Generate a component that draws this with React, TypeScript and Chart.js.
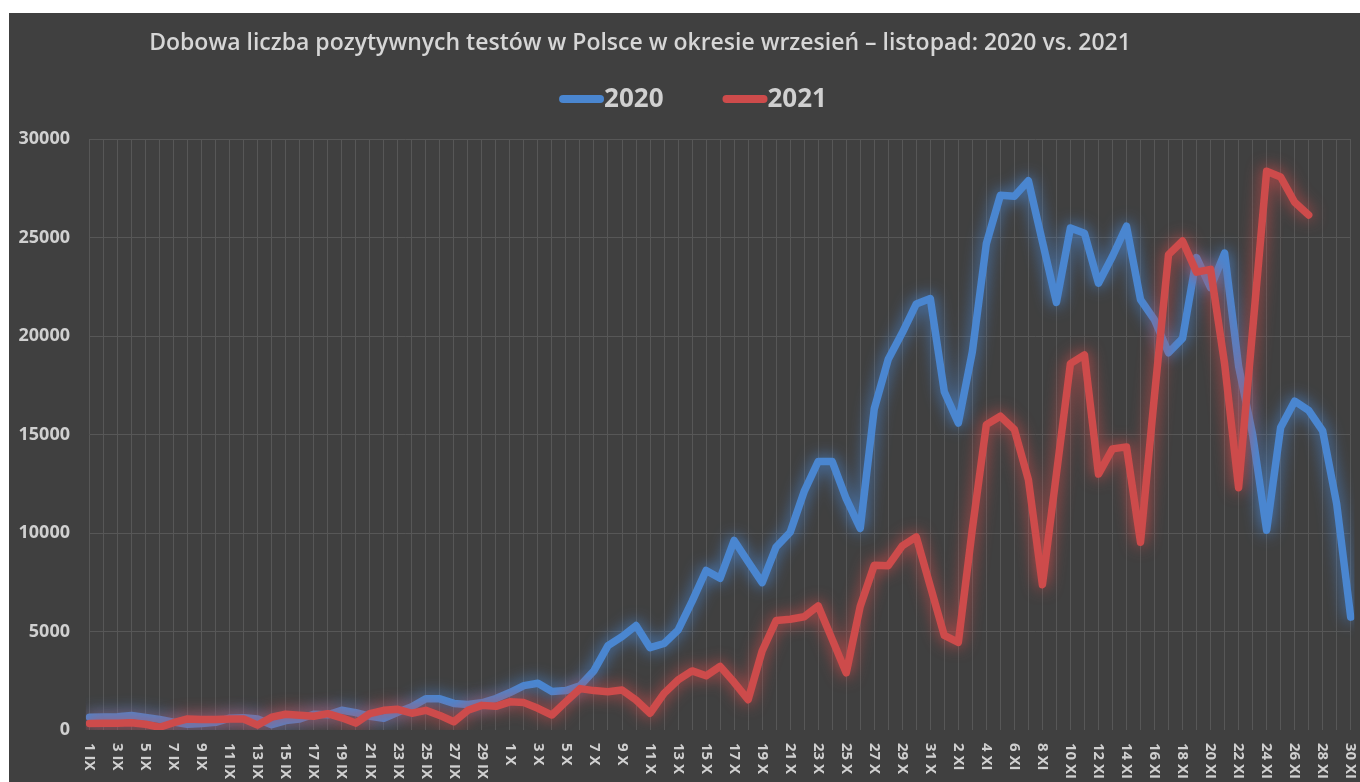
import React, { useEffect, useRef } from 'react';
import { Chart, registerables } from 'chart.js';

Chart.register(...registerables);

// ---------- data ----------
const TITLE = 'Dobowa liczba pozytywnych testów w Polsce w okresie wrzesień – listopad: 2020 vs. 2021';

const days = [
  '1 IX', '2 IX', '3 IX', '4 IX', '5 IX', '6 IX', '7 IX', '8 IX', '9 IX', '10 IX',
  '11 IX', '12 IX', '13 IX', '14 IX', '15 IX', '16 IX', '17 IX', '18 IX', '19 IX', '20 IX',
  '21 IX', '22 IX', '23 IX', '24 IX', '25 IX', '26 IX', '27 IX', '28 IX', '29 IX', '30 IX',
  '1 X', '2 X', '3 X', '4 X', '5 X', '6 X', '7 X', '8 X', '9 X', '10 X',
  '11 X', '12 X', '13 X', '14 X', '15 X', '16 X', '17 X', '18 X', '19 X', '20 X',
  '21 X', '22 X', '23 X', '24 X', '25 X', '26 X', '27 X', '28 X', '29 X', '30 X', '31 X',
  '1 XI', '2 XI', '3 XI', '4 XI', '5 XI', '6 XI', '7 XI', '8 XI', '9 XI', '10 XI',
  '11 XI', '12 XI', '13 XI', '14 XI', '15 XI', '16 XI', '17 XI', '18 XI', '19 XI', '20 XI',
  '21 XI', '22 XI', '23 XI', '24 XI', '25 XI', '26 XI', '27 XI', '28 XI', '29 XI', '30 XI',
];

const seriesNames = ['2020', '2021'];

const cases2020 = [
  650, 660, 670, 740, 640, 540, 400, 290, 330, 390,
  600, 620, 560, 270, 480, 560, 800, 770, 1000, 880,
  700, 600, 900, 1180, 1590, 1580, 1350, 1300, 1380, 1600,
  1900, 2250, 2370, 1950, 2000, 2240, 3010, 4280, 4740, 5300,
  4180, 4390, 5070, 6530, 8100, 7700, 9620, 8540, 7480, 9290,
  10040, 12110, 13630, 13630, 11740, 10240, 16300, 18820, 20160, 21630, 21900,
  17170, 15580, 19200, 24690, 27140, 27090, 27880, 24790, 21710, 25480,
  25220, 22680, 24050, 25570, 21850, 20820, 19150, 19880, 23980, 22460,
  24210, 18470, 15000, 10140, 15360, 16690, 16220, 15180, 11480, 5730,
];

const cases2021 = [
  330, 340, 340, 370, 290, 140, 370, 560, 530, 530,
  560, 560, 250, 650, 800, 750, 700, 830, 620, 350,
  830, 1000, 1050, 850, 1000, 740, 420, 1000, 1250, 1200,
  1430, 1390, 1100, 760, 1440, 2100, 2000, 1940, 2030, 1520,
  850, 1860, 2540, 3000, 2750, 3230, 2420, 1540, 4010, 5560,
  5620, 5750, 6300, 4600, 2900, 6280, 8360, 8340, 9350, 9800, 7300,
  4800, 4450, 10200, 15500, 15930, 15250, 12700, 7370, 13000, 18600,
  19040, 12990, 14270, 14370, 9530, 17000, 24130, 24820, 23240, 23380,
  18600, 12300, 20300, 28360, 28070, 26790, 26140,
];

const Y_MIN = 0;
const Y_MAX = 30000;
const Y_STEP = 5000;

// ---------- style ----------
const W = 1351;
const H = 769;
const BG = '#404040';
const TEXT = '#d0d0d0';
const TITLE_COLOR = '#d6d6d6';
const GRID = '#575757';
const BLUE = '#4a86d0';
const RED = '#cd4b4b';
const FONT = '"Open Sans", "DejaVu Sans", sans-serif';

const glowPlugin = {
  id: 'glow',
  beforeDatasetDraw(chart: any, args: any) {
    const ctx = chart.ctx;
    const ds = chart.data.datasets[args.index];
    ctx.save();
    ctx.shadowColor = ds.borderColor;
    ctx.shadowBlur = 16;
  },
  afterDatasetDraw(chart: any) {
    chart.ctx.restore();
  },
};

const titlePlugin = {
  id: 'titleText',
  afterDraw(chart: any) {
    const ctx = chart.ctx;
    ctx.save();
    ctx.font = `600 23px ${FONT}`;
    ctx.fillStyle = TITLE_COLOR;
    ctx.textAlign = 'center';
    ctx.textBaseline = 'alphabetic';
    ctx.fillText(TITLE, 631, 37);
    ctx.restore();
  },
};

const legendPlugin = {
  id: 'lineLegend',
  afterDraw(chart: any) {
    const ctx = chart.ctx;
    ctx.save();
    ctx.font = `bold 26px ${FONT}`;
    const items = chart.data.datasets.map((ds: any) => ({
      label: ds.label,
      color: ds.borderColor,
      w: ctx.measureText(ds.label).width,
    }));
    const markerLen = 37;
    const cap = 4;
    const gap = 59;
    const total =
      items.reduce((s: number, it: any) => s + markerLen + 2 * cap + it.w, 0) + gap * (items.length - 1);
    let x = 684 - total / 2;
    const y = 86;
    items.forEach((it: any) => {
      ctx.strokeStyle = it.color;
      ctx.lineWidth = 8;
      ctx.lineCap = 'round';
      ctx.beginPath();
      ctx.moveTo(x + cap, y);
      ctx.lineTo(x + cap + markerLen, y);
      ctx.stroke();
      x += markerLen + 2 * cap;
      ctx.fillStyle = TEXT;
      ctx.textAlign = 'left';
      ctx.textBaseline = 'middle';
      ctx.fillText(it.label, x, y + 1);
      x += it.w + gap;
    });
    ctx.restore();
  },
};

const xLabelPlugin = {
  id: 'xLabels',
  afterDraw(chart: any) {
    const ctx = chart.ctx;
    const xs = chart.scales.x;
    const top = chart.chartArea.bottom + 13;
    ctx.save();
    ctx.font = `bold 15px ${FONT}`;
    ctx.fillStyle = TEXT;
    ctx.textAlign = 'left';
    ctx.textBaseline = 'middle';
    days.forEach((lab, i) => {
      if (i % 2 !== 0) return;
      const x = xs.getPixelForValue(i);
      ctx.save();
      ctx.translate(x, top);
      ctx.rotate(Math.PI / 2);
      ctx.fillText(lab, 0, 0);
      ctx.restore();
    });
    ctx.restore();
  },
};

export default function App() {
  const ref = useRef<HTMLCanvasElement>(null);

  useEffect(() => {
    if (!ref.current) return;
    const mk = (label: string, data: number[], color: string, order: number) => ({
      label,
      data,
      borderColor: color,
      backgroundColor: color,
      borderWidth: 7.5,
      borderCapStyle: 'round',
      borderJoinStyle: 'round',
      pointRadius: 0,
      pointHoverRadius: 0,
      tension: 0,
      order,
    });
    const chart = new Chart(ref.current, {
      type: 'line',
      data: {
        labels: days,
        datasets: [mk(seriesNames[0], cases2020, BLUE, 1), mk(seriesNames[1], cases2021, RED, 0)],
      },
      options: {
        responsive: false,
        animation: false,
        devicePixelRatio: 1,
        layout: { padding: { top: 126, left: 0, right: 9.3, bottom: 0 } },
        plugins: {
          title: { display: false },
          tooltip: { enabled: false },
          legend: { display: false },
        },
        scales: {
          x: {
            type: 'category',
            position: 'bottom',
            offset: false,
            border: { display: false },
            grid: { color: GRID, lineWidth: 1, drawTicks: false },
            ticks: { display: false, autoSkip: false },
            afterFit: (s: any) => {
              s.height = 52;
            },
          },
          y: {
            type: 'linear',
            position: 'left',
            min: Y_MIN,
            max: Y_MAX,
            border: { display: false },
            grid: {
              drawTicks: false,
              lineWidth: 1,
              color: (c: any) => (c.tick && c.tick.value === 0 ? 'rgba(0,0,0,0)' : GRID),
            },
            ticks: {
              stepSize: Y_STEP,
              padding: 19.5,
              color: TEXT,
              font: { family: FONT, size: 18, weight: 'bold' },
              callback: (v: any) => String(v),
            },
            afterFit: (s: any) => {
              s.width = 80.5;
            },
          },
        },
      } as any,
      plugins: [glowPlugin, titlePlugin, legendPlugin, xLabelPlugin],
    });
    return () => chart.destroy();
  }, []);

  return (
    <div
      style={{
        position: 'fixed',
        left: 9,
        top: 13,
        width: W,
        height: H,
        background: BG,
        overflow: 'hidden',
      }}
    >
      <canvas ref={ref} width={W} height={H} style={{ display: 'block', width: W, height: H }} />
    </div>
  );
}
